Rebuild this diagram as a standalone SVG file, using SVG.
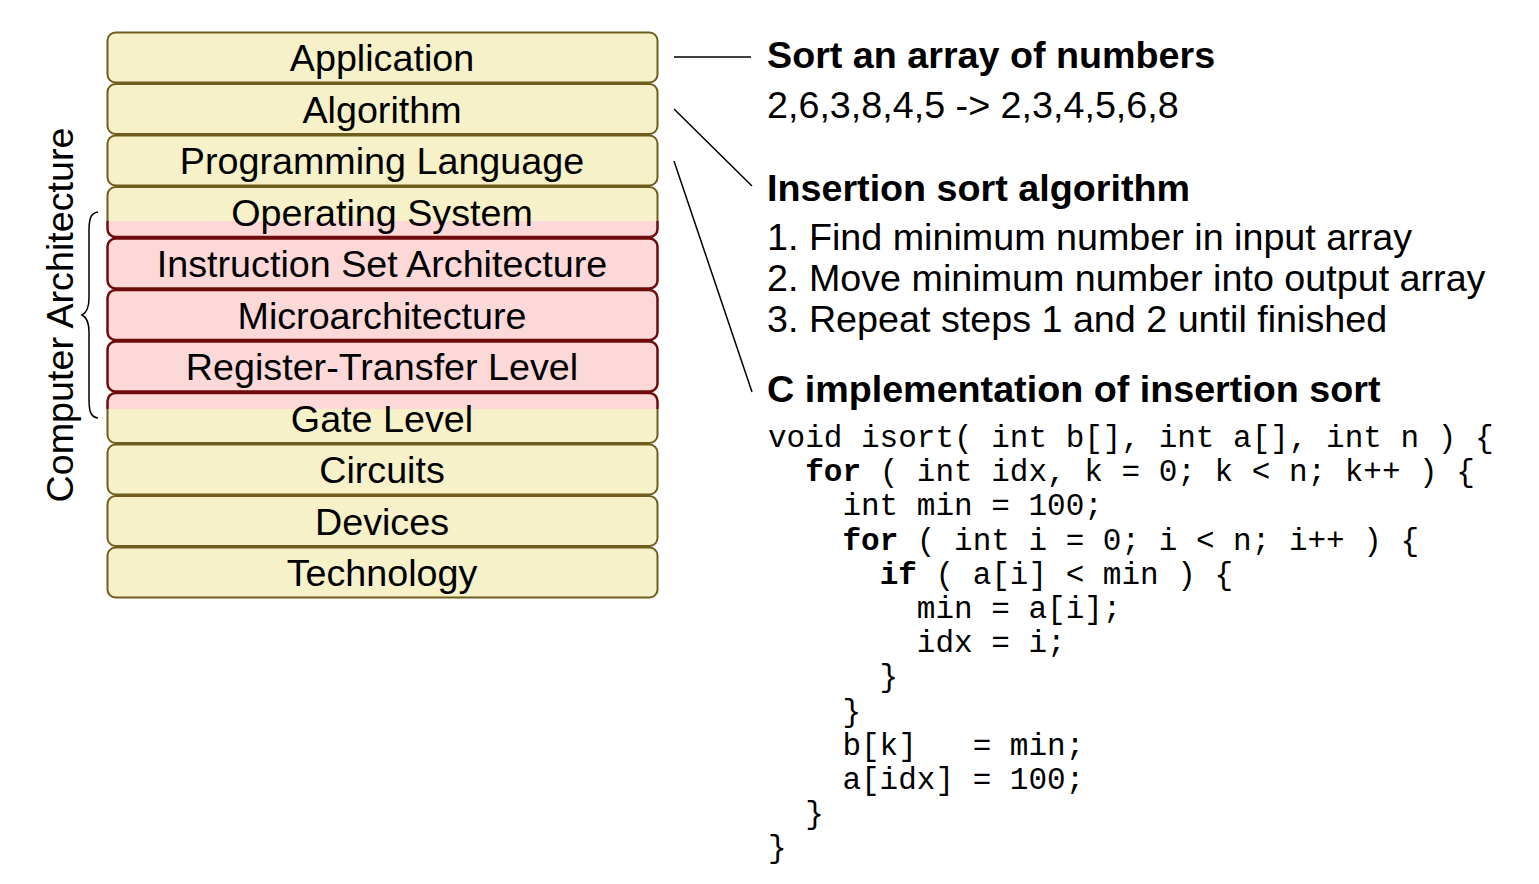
<svg xmlns="http://www.w3.org/2000/svg" width="1539" height="884" viewBox="0 0 1539 884">
<style>
.y{fill:#f6f1c9;stroke:#6e5d1c;stroke-width:2}
.p{fill:#fdd8d9;stroke:#6e0b0b;stroke-width:2.5}
.lbl{font-family:"Liberation Sans",Arial,sans-serif;font-size:37.7px;fill:#000;text-anchor:middle}
.rt{font-family:"Liberation Sans",Arial,sans-serif;font-size:37.7px;fill:#000}
.b{font-weight:bold}
.code{font-family:"Liberation Mono","Courier New",monospace;font-size:31px;fill:#000;white-space:pre}
.ln{stroke:#000;stroke-width:1.5;fill:none}
</style>
<defs>
<clipPath id="topOS"><rect x="90" y="180" width="580" height="41"/></clipPath>
<clipPath id="botOS"><rect x="90" y="221" width="580" height="30"/></clipPath>
<clipPath id="topG"><rect x="90" y="385" width="580" height="24"/></clipPath>
<clipPath id="botG"><rect x="90" y="409" width="580" height="45"/></clipPath>
</defs>
<rect width="1539" height="884" fill="#fff"/>

<g id="application"><rect class="y" x="107.5" y="32.5" width="550" height="50" rx="8"/><text class="lbl" x="382" y="71">Application</text></g>
<g id="algorithm"><rect class="y" x="107.5" y="84" width="550" height="50" rx="8"/><text class="lbl" x="382" y="122.5">Algorithm</text></g>
<g id="programming-language"><rect class="y" x="107.5" y="135.5" width="550" height="50" rx="8"/><text class="lbl" x="382" y="174">Programming Language</text></g>
<g id="operating-system">
<rect class="y" x="107.5" y="187" width="550" height="50" rx="8" clip-path="url(#topOS)"/>
<rect class="p" x="107.5" y="187" width="550" height="50" rx="8" clip-path="url(#botOS)"/>
<text class="lbl" x="382" y="225.5">Operating System</text></g>
<g id="isa"><rect class="p" x="107.5" y="238.5" width="550" height="50" rx="8"/><text class="lbl" x="382" y="277">Instruction Set Architecture</text></g>
<g id="microarchitecture"><rect class="p" x="107.5" y="290" width="550" height="50" rx="8"/><text class="lbl" x="382" y="328.5">Microarchitecture</text></g>
<g id="rtl"><rect class="p" x="107.5" y="341.5" width="550" height="50" rx="8"/><text class="lbl" x="382" y="380">Register-Transfer Level</text></g>
<g id="gate-level">
<rect class="p" x="107.5" y="393" width="550" height="50" rx="8" clip-path="url(#topG)"/>
<rect class="y" x="107.5" y="393" width="550" height="50" rx="8" clip-path="url(#botG)"/>
<text class="lbl" x="382" y="431.5">Gate Level</text></g>
<g id="circuits"><rect class="y" x="107.5" y="444.5" width="550" height="50" rx="8"/><text class="lbl" x="382" y="483">Circuits</text></g>
<g id="devices"><rect class="y" x="107.5" y="496" width="550" height="50" rx="8"/><text class="lbl" x="382" y="534.5">Devices</text></g>
<g id="technology"><rect class="y" x="107.5" y="547.5" width="550" height="50" rx="8"/><text class="lbl" x="382" y="586">Technology</text></g>

<g id="computer-architecture">
<path class="ln" d="M98,212 C90,213 89,220 89,232 L89,298 C89,308 86,313 82,315 C86,317 89,322 89,332 L89,398 C89,410 90,417 98,418"/>
<text class="lbl" transform="translate(73,315) rotate(-90)" x="0" y="0">Computer Architecture</text>
</g>

<g id="connectors">
<line class="ln" x1="674" y1="57" x2="751" y2="57"/>
<line class="ln" x1="674" y1="109" x2="752" y2="186"/>
<line class="ln" x1="674" y1="161" x2="752" y2="392"/>
</g>

<g id="sort-desc">
<text class="rt b" x="767" y="68">Sort an array of numbers</text>
<text class="rt" x="767" y="118">2,6,3,8,4,5 -&gt; 2,3,4,5,6,8</text>
</g>
<g id="algorithm-desc">
<text class="rt b" x="767" y="201">Insertion sort algorithm</text>
<text class="rt" x="767" y="250">1. Find minimum number in input array</text>
<text class="rt" x="767" y="291">2. Move minimum number into output array</text>
<text class="rt" x="767" y="332">3. Repeat steps 1 and 2 until finished</text>
</g>
<g id="c-implementation">
<text class="rt b" x="767" y="402">C implementation of insertion sort</text>
<text class="code" xml:space="preserve" x="768" y="447">void isort( int b[], int a[], int n ) {</text>
<text class="code" xml:space="preserve" x="768" y="481.2">  <tspan class="b">for</tspan> ( int idx, k = 0; k &lt; n; k++ ) {</text>
<text class="code" xml:space="preserve" x="768" y="515.4">    int min = 100;</text>
<text class="code" xml:space="preserve" x="768" y="549.6">    <tspan class="b">for</tspan> ( int i = 0; i &lt; n; i++ ) {</text>
<text class="code" xml:space="preserve" x="768" y="583.8">      <tspan class="b">if</tspan> ( a[i] &lt; min ) {</text>
<text class="code" xml:space="preserve" x="768" y="618">        min = a[i];</text>
<text class="code" xml:space="preserve" x="768" y="652.2">        idx = i;</text>
<text class="code" xml:space="preserve" x="768" y="686.4">      }</text>
<text class="code" xml:space="preserve" x="768" y="720.6">    }</text>
<text class="code" xml:space="preserve" x="768" y="754.8">    b[k]   = min;</text>
<text class="code" xml:space="preserve" x="768" y="789">    a[idx] = 100;</text>
<text class="code" xml:space="preserve" x="768" y="823.2">  }</text>
<text class="code" xml:space="preserve" x="768" y="857.4">}</text>
</g>
</svg>
